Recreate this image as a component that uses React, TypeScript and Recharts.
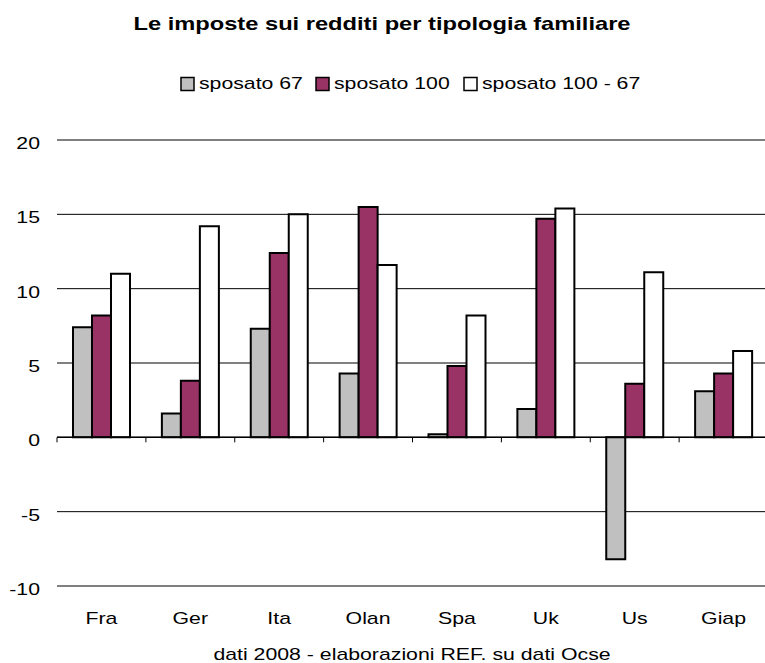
import React from 'react';
import { BarChart, Bar, XAxis, YAxis, CartesianGrid, ReferenceLine } from 'recharts';

const categories = ['Fra', 'Ger', 'Ita', 'Olan', 'Spa', 'Uk', 'Us', 'Giap'];
const sposato67 = [7.4, 1.6, 7.3, 4.3, 0.2, 1.9, -8.2, 3.1];
const sposato100 = [8.2, 3.8, 12.4, 15.5, 4.8, 14.7, 3.6, 4.3];
const sposato100m67 = [11.0, 14.2, 15.0, 11.6, 8.2, 15.4, 11.1, 5.8];
const seriesNames = ['sposato 67', 'sposato 100', 'sposato 100 - 67'];
const seriesKeys = ['s67', 's100', 's10067'];
const seriesColors = ['#C0C0C0', '#993366', '#FFFFFF'];
const yTicks = [-10, -5, 0, 5, 10, 15, 20];
const titleText = 'Le imposte sui redditi per tipologia familiare';
const footerText = 'dati 2008 - elaborazioni REF. su dati Ocse';

const data = categories.map((c, i) => ({
  name: c,
  s67: sposato67[i],
  s100: sposato100[i],
  s10067: sposato100m67[i],
}));

const FONT = '"Liberation Sans", Arial, sans-serif';
const STRETCH = 1.33;
const legendX = [180, 315, 463];

const YTick = (props: any) => {
  const { x, y, payload } = props;
  return (
    <g transform={`translate(${x},${y + 9}) scale(${STRETCH},1)`}>
      <text x={0} y={0} textAnchor="end" fontSize={16} fontFamily={FONT} fill="#000">
        {payload.value}
      </text>
    </g>
  );
};

const XTick = (props: any) => {
  const { x, y, payload } = props;
  return (
    <g transform={`translate(${x},${y + 38}) scale(${STRETCH},1)`}>
      <text x={0} y={0} textAnchor="middle" fontSize={16} fontFamily={FONT} fill="#000">
        {payload.value}
      </text>
    </g>
  );
};

const ZeroLine = (props: any) => {
  const { x1, y1, x2, y2 } = props;
  const n = categories.length;
  const step = (x2 - x1) / n;
  const ticks = [];
  for (let i = 0; i <= n; i++) {
    const tx = x1 + i * step;
    ticks.push(<line key={i} x1={tx} y1={y1} x2={tx} y2={y1 + 5} stroke="#000" strokeWidth={1} />);
  }
  return (
    <g>
      <line x1={x1} y1={y1} x2={x2} y2={y2} stroke="#000" strokeWidth={1.5} />
      {ticks}
    </g>
  );
};

export default function App() {
  return (
    <div style={{ position: 'absolute', left: 0, top: 0, width: 765, height: 663, overflow: 'hidden', background: '#fff' }}>
      <BarChart
        width={770}
        height={663}
        data={data}
        margin={{ top: 140, right: 2, bottom: 37, left: 17 }}
        barCategoryGap={16}
        barGap={0}
      >
        <CartesianGrid horizontal vertical={false} stroke="#000" strokeWidth={1} />
        <YAxis
          domain={[-10, 20]}
          ticks={yTicks}
          width={40}
          axisLine={false}
          tickLine={false}
          tickSize={0}
          tickMargin={17}
          tick={<YTick />}
          interval={0}
        />
        <XAxis
          dataKey="name"
          height={40}
          axisLine={false}
          tickLine={false}
          tickSize={0}
          tickMargin={0}
          tick={<XTick />}
          interval={0}
        />
        {seriesKeys.map((k, i) => (
          <Bar
            key={k}
            dataKey={k}
            name={seriesNames[i]}
            fill={seriesColors[i]}
            stroke="#000"
            strokeWidth={2}
            isAnimationActive={false}
          />
        ))}
        <ReferenceLine y={0} shape={<ZeroLine />} />
      </BarChart>
      <svg
        width={765}
        height={663}
        style={{ position: 'absolute', left: 0, top: 0, pointerEvents: 'none' }}
      >
        <g transform={`translate(382,30) scale(1.28,1)`}>
          <text x={0} y={0} textAnchor="middle" fontSize={18.5} fontWeight="bold" fontFamily={FONT} fill="#000">
            {titleText}
          </text>
        </g>
        {seriesNames.map((n, i) => (
          <g key={n}>
            <rect x={legendX[i] + 1} y={77.5} width={13} height={13} fill={seriesColors[i]} stroke="#000" strokeWidth={1.5} />
            <g transform={`translate(${legendX[i] + 19},88.5) scale(1.25,1)`}>
              <text x={0} y={0} fontSize={17} fontFamily={FONT} fill="#000">
                {n}
              </text>
            </g>
          </g>
        ))}
        <g transform={`translate(412,660) scale(${STRETCH},1)`}>
          <text x={0} y={0} textAnchor="middle" fontSize={16} fontFamily={FONT} fill="#000">
            {footerText}
          </text>
        </g>
      </svg>
    </div>
  );
}
